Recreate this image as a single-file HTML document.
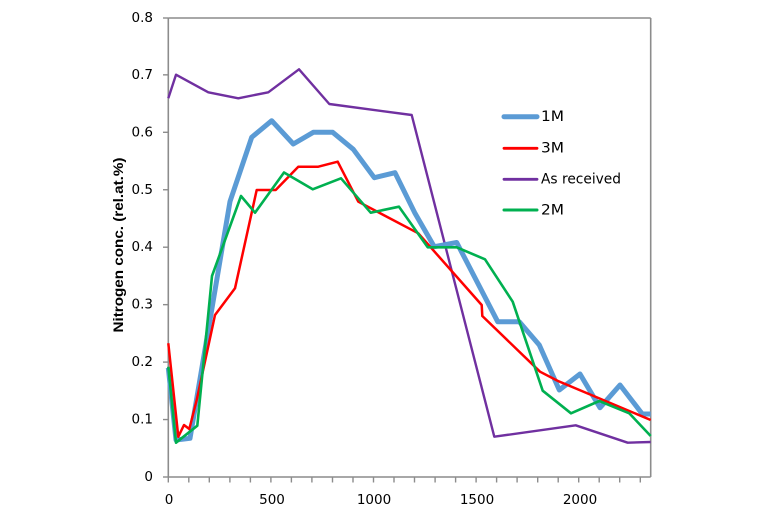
<!DOCTYPE html>
<html>
<head>
<meta charset="utf-8">
<style>
  html, body { margin:0; padding:0; background:#ffffff; }
  svg { display:block; }
  .tk { font-family: "DejaVu Sans", "Liberation Sans", sans-serif; font-size:13.5px; fill:#000; }
  .lg { font-family: "DejaVu Sans", "Liberation Sans", sans-serif; font-size:14px; fill:#000; }
  .ttl { font-family: "Liberation Sans", sans-serif; font-size:14px; font-weight:bold; fill:#000; }
</style>
</head>
<body>
<svg width="757" height="516" viewBox="0 0 757 516" xmlns="http://www.w3.org/2000/svg">
  <rect x="0" y="0" width="757" height="516" fill="#ffffff"/>

  <!-- plot frame -->
  <g stroke="#8c8c8c" stroke-width="1.6" fill="none">
    <line x1="168.3" y1="18" x2="650.7" y2="18"/>
    <line x1="650.7" y1="18" x2="650.7" y2="477"/>
    <line x1="168.3" y1="18" x2="168.3" y2="477"/>
    <line x1="168.3" y1="477" x2="650.7" y2="477"/>
  </g>

  <!-- y ticks -->
  <g stroke="#8c8c8c" stroke-width="1.4">
    <line x1="163" y1="477" x2="168.3" y2="477"/>
    <line x1="163" y1="419.55" x2="168.3" y2="419.55"/>
    <line x1="163" y1="362.1" x2="168.3" y2="362.1"/>
    <line x1="163" y1="304.65" x2="168.3" y2="304.65"/>
    <line x1="163" y1="247.2" x2="168.3" y2="247.2"/>
    <line x1="163" y1="189.75" x2="168.3" y2="189.75"/>
    <line x1="163" y1="132.3" x2="168.3" y2="132.3"/>
    <line x1="163" y1="74.85" x2="168.3" y2="74.85"/>
    <line x1="163" y1="18" x2="168.3" y2="18"/>
  </g>

  <!-- x ticks every 100 -->
  <g stroke="#8c8c8c" stroke-width="1.4">
    <line x1="168.3" y1="477" x2="168.3" y2="482.5"/>
    <line x1="188.8" y1="477" x2="188.8" y2="482.5"/>
    <line x1="209.3" y1="477" x2="209.3" y2="482.5"/>
    <line x1="229.9" y1="477" x2="229.9" y2="482.5"/>
    <line x1="250.4" y1="477" x2="250.4" y2="482.5"/>
    <line x1="270.9" y1="477" x2="270.9" y2="482.5"/>
    <line x1="291.4" y1="477" x2="291.4" y2="482.5"/>
    <line x1="311.9" y1="477" x2="311.9" y2="482.5"/>
    <line x1="332.5" y1="477" x2="332.5" y2="482.5"/>
    <line x1="353.0" y1="477" x2="353.0" y2="482.5"/>
    <line x1="373.5" y1="477" x2="373.5" y2="482.5"/>
    <line x1="394.0" y1="477" x2="394.0" y2="482.5"/>
    <line x1="414.5" y1="477" x2="414.5" y2="482.5"/>
    <line x1="435.1" y1="477" x2="435.1" y2="482.5"/>
    <line x1="455.6" y1="477" x2="455.6" y2="482.5"/>
    <line x1="476.1" y1="477" x2="476.1" y2="482.5"/>
    <line x1="496.6" y1="477" x2="496.6" y2="482.5"/>
    <line x1="517.1" y1="477" x2="517.1" y2="482.5"/>
    <line x1="537.7" y1="477" x2="537.7" y2="482.5"/>
    <line x1="558.2" y1="477" x2="558.2" y2="482.5"/>
    <line x1="578.7" y1="477" x2="578.7" y2="482.5"/>
    <line x1="599.2" y1="477" x2="599.2" y2="482.5"/>
    <line x1="619.7" y1="477" x2="619.7" y2="482.5"/>
    <line x1="640.3" y1="477" x2="640.3" y2="482.5"/>
  </g>

  <!-- y tick labels -->
  <g class="tk" text-anchor="end" dominant-baseline="central">
    <text x="153" y="477">0</text>
    <text x="153" y="419.55">0.1</text>
    <text x="153" y="362.1">0.2</text>
    <text x="153" y="304.65">0.3</text>
    <text x="153" y="247.2">0.4</text>
    <text x="153" y="189.75">0.5</text>
    <text x="153" y="132.3">0.6</text>
    <text x="153" y="74.85">0.7</text>
    <text x="153" y="18">0.8</text>
  </g>

  <!-- x tick labels -->
  <g class="tk" text-anchor="middle" dominant-baseline="central">
    <text x="169" y="500">0</text>
    <text x="272" y="500">500</text>
    <text x="374" y="500">1000</text>
    <text x="477" y="500">1500</text>
    <text x="580" y="500">2000</text>
  </g>

  <!-- y axis title -->
  <text class="ttl" transform="translate(123,245) rotate(-90)" text-anchor="middle" textLength="175" lengthAdjust="spacingAndGlyphs">Nitrogen conc. (rel.at.%)</text>

  <!-- series: As received (purple) -->
  <polyline fill="none" stroke="#7030a0" stroke-width="2.4" stroke-linejoin="round"
    points="168.3,98.3 176,74.7 208.3,92.3 238.3,98.3 268.3,92.3 299,69.3 329.3,104 411.7,115 494.3,436.7 575.7,425.3 627.7,442.7 650.7,442"/>

  <!-- series: 1M (blue) -->
  <polyline fill="none" stroke="#5b9bd5" stroke-width="5" stroke-linejoin="round"
    points="168.3,367.8 176,440 190,438.3 230,201.5 251.7,137.3 271.7,120.7 293.3,144 313.3,132.3 332.7,132.3 353.3,149.3 374.3,177.7 395,172.7 415,213.3 434.3,246.7 456.7,242.5 497.7,321.7 519.3,321.7 539.3,345 559.3,390 580,374 600,407.7 620,385 642.3,414 650.7,414"/>

  <!-- series: 3M (red) -->
  <polyline fill="none" stroke="#ff0000" stroke-width="2.5" stroke-linejoin="round"
    points="168.3,343.3 178.3,436.7 184,425 189.3,429 196.7,400 215,315 235,288.3 256.7,190 275.7,190 298.3,166.7 318.3,166.7 337.7,161.7 358.3,201.7 418.3,233.3 481.7,305 482.3,316 540,371.7 558,381 650.7,420"/>

  <!-- series: 2M (green) -->
  <polyline fill="none" stroke="#00b050" stroke-width="2.6" stroke-linejoin="round"
    points="168.3,366.7 176,442.7 197.3,425.7 212,276 241,196 255,212.7 284,172.5 312.7,189.3 341,178.3 370.7,212.7 399,206.7 427.7,247.3 456.7,247.3 485,259.3 512.7,301.7 542.7,390.7 571,413.3 599.3,401 629.3,413.3 650.7,436"/>

  <!-- legend -->
  <g stroke-linecap="round">
    <line x1="504" y1="116.7" x2="537" y2="116.7" stroke="#5b9bd5" stroke-width="5"/>
    <line x1="504" y1="148.3" x2="537" y2="148.3" stroke="#ff0000" stroke-width="2.8"/>
    <line x1="504" y1="179.3" x2="537" y2="179.3" stroke="#7030a0" stroke-width="2.8"/>
    <line x1="504" y1="210" x2="537" y2="210" stroke="#00b050" stroke-width="3"/>
  </g>
  <g class="lg" dominant-baseline="central">
    <text x="541" y="117" textLength="23" lengthAdjust="spacingAndGlyphs">1M</text>
    <text x="541" y="148.5" textLength="23" lengthAdjust="spacingAndGlyphs">3M</text>
    <text x="541" y="179.5" textLength="80" lengthAdjust="spacingAndGlyphs">As received</text>
    <text x="541" y="210.5" textLength="23" lengthAdjust="spacingAndGlyphs">2M</text>
  </g>
</svg>
</body>
</html>
